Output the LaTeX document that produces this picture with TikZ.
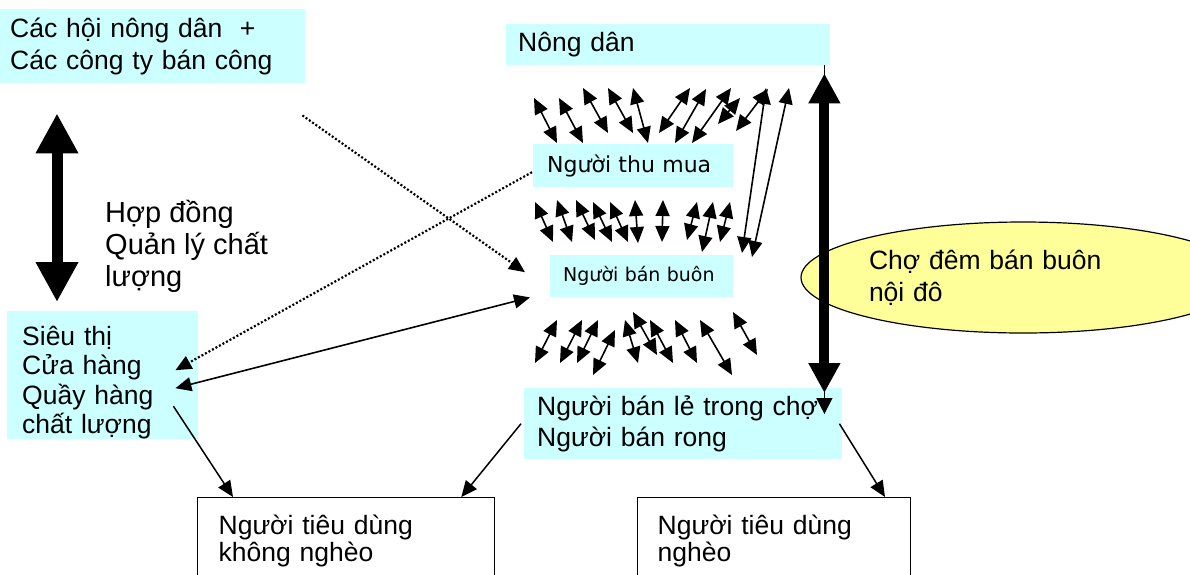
\documentclass[tikz,border=0pt]{standalone}
\usepackage{fontspec}
\setmainfont{Liberation Sans}
\newfontfamily\tahfont{DejaVu Sans}
\usetikzlibrary{arrows.meta,shapes.geometric,calc}
\definecolor{paleCyan}{RGB}{204,255,255}
\definecolor{paleYellow}{RGB}{255,255,153}
\newcommand\consumerfont{\fontsize{26.5pt}{27pt}\selectfont\lineskiplimit=-20pt\relax}
\tikzset{
  cbox/.style={fill=paleCyan, draw=none, anchor=north west, inner ysep=0pt, align=left},
  wbox/.style={draw=black, line width=1.3pt, fill=white, anchor=north west, inner ysep=0pt, align=left},
  bigtxt/.style={font=\fontsize{26.5pt}{32pt}\selectfont},
  smallhead/.style={-{Triangle[length=16pt,width=14pt]}, line width=1.5pt},
  twohead/.style={{Triangle[length=16pt,width=14pt]}-{Triangle[length=16pt,width=14pt]}, line width=1.6pt},
  dotline/.style={smallhead, line width=2.2pt, dash pattern=on 2pt off 2pt},
}
\begin{document}
\begin{tikzpicture}[x=1pt,y=-1pt]
\useasboundingbox (0,0) rectangle (1190,574);
\clip (0,0) rectangle (1190,574);
\fill[white] (0,0) rectangle (1190,574);

% actors
\node[cbox, bigtxt, text width=285pt, inner xsep=10pt, minimum height=74pt] (hoi) at (0,9)
  {Các hội nông dân~ +\\Các công ty bán công};
\node[cbox, bigtxt, text width=300pt, inner xsep=12pt, minimum height=41pt] (nongdan) at (506,24)
  {Nông dân};
\node[cbox, font=\tahfont\fontsize{22pt}{26pt}\selectfont, text width=172pt, inner xsep=14pt, minimum height=43pt] (thumua) at (533,144)
  {Người thu mua};
\node[cbox, font=\tahfont\fontsize{19pt}{23pt}\selectfont, text width=157pt, inner xsep=13pt, minimum height=42pt] (banbuon) at (550,255)
  {Người bán buôn};
\node[cbox, font=\fontsize{26.5pt}{29.5pt}\selectfont, text width=161pt, inner xsep=15pt, minimum height=126pt] (sieuthi) at (7,311)
  {\rule{0pt}{34pt}Siêu thị\\Cửa hàng\\Quầy hàng\\chất lượng};
\node[cbox, font=\fontsize{26.5pt}{31pt}\selectfont, text width=292pt, inner xsep=13pt, minimum height=71pt] (banle) at (524,388)
  {Người bán lẻ trong chợ\\Người bán rong};
\node[wbox, font=\consumerfont, text width=255pt, inner xsep=21pt, minimum height=86pt] (knngheo) at (197,497)
  {Người tiêu dùng\\không nghèo};
\node[wbox, font=\consumerfont, text width=233pt, inner xsep=20pt, minimum height=86pt] (ngheo) at (637,497)
  {Người tiêu dùng\\nghèo};
\node[ellipse, fill=paleYellow, draw=black, line width=1.2pt, minimum width=444pt, minimum height=111pt,
      inner sep=0pt, text width=308pt, align=left, bigtxt] (cho) at (1023,277.5)
  {Chợ đêm bán buôn\\nội đô};
\node[anchor=west, align=left, inner sep=0pt, font=\fontsize{29pt}{32pt}\selectfont] (hopdong) at (105,246)
  {Hợp đồng\\Quản lý chất\\lượng};

% exchanges between farmers and collectors
\foreach \xa/\ya/\xb/\yb in {534/98/557/143, 559/98/583/143, 583/88/608/133, 608/88/633/133,
    633/88/648/143, 690/88/659/133, 706/89/675/143, 731/88/692/143, 718/124/740/98,
    768/89/736/131, 766/88/742/253, 789/88/752/257}
  \draw[twohead] (\xa,\ya) -- (\xb,\yb);
% exchanges between collectors and wholesalers
\foreach \xa/\ya/\xb/\yb in {535/202/553/242, 557/200/572/242, 576/200/595/240, 593/202/612/242,
    610/202/628/242, 635/200/638/243, 663/200/662/242, 697/202/687/240, 713/202/702/252,
    730/202/720/242}
  \draw[twohead] (\xa,\ya) -- (\xb,\yb);
% exchanges between wholesalers and retailers
\foreach \xa/\ya/\xb/\yb in {557/320/535/363, 582/320/560/363, 598/320/577/363, 615/330/593/375,
    625/320/638/363, 633/312/657/355, 650/320/673/363, 675/320/697/363, 700/320/732/375,
    733/312/757/355}
  \draw[twohead] (\xa,\ya) -- (\xb,\yb);

% links to the quality outlets
\draw[dotline] ($(hoi.south east)+(-3,32)$) -- ($(banbuon.west)+(-25,-4)$);
\draw[dotline] ($(thumua.west)+(-1,6.5)$) -- ($(sieuthi.east)+(-23,-5)$);
\draw[twohead] ($(banbuon.south west)+(-20,0)$) -- ($(sieuthi.east)+(-23,13)$);

% links to consumers
\draw[smallhead] ($(sieuthi.east)+(-25,31)$) -- ($(knngheo.north west)+(36,0)$);
\draw[smallhead] ($(banle.west)+(-3,0)$) -- ($(knngheo.north east)+(-34,0)$);
\draw[smallhead] ($(banle.east)+(-3,0)$) -- ($(ngheo.north west)+(248,0)$);

% direct farmer to retailer flow
\draw[-{Triangle[length=16pt,width=16pt]}, line width=1.4pt]
  ($(nongdan.south east)+(-6,0)$) -- ($(banle.north east)+(-18,26)$);
\draw[line width=10pt, {Triangle[length=30pt,width=30pt]}-{Triangle[length=30pt,width=30pt]}]
  ($(nongdan.south east)+(-6,8)$) -- ($(banle.north east)+(-18,5)$);

% contract and quality management
\draw[line width=11pt, {Triangle[length=40pt,width=40pt]}-{Triangle[length=40pt,width=40pt]}]
  ($(hoi.south west)+(57,30)$) -- ($(sieuthi.north west)+(50,-9)$);
\end{tikzpicture}
\end{document}
